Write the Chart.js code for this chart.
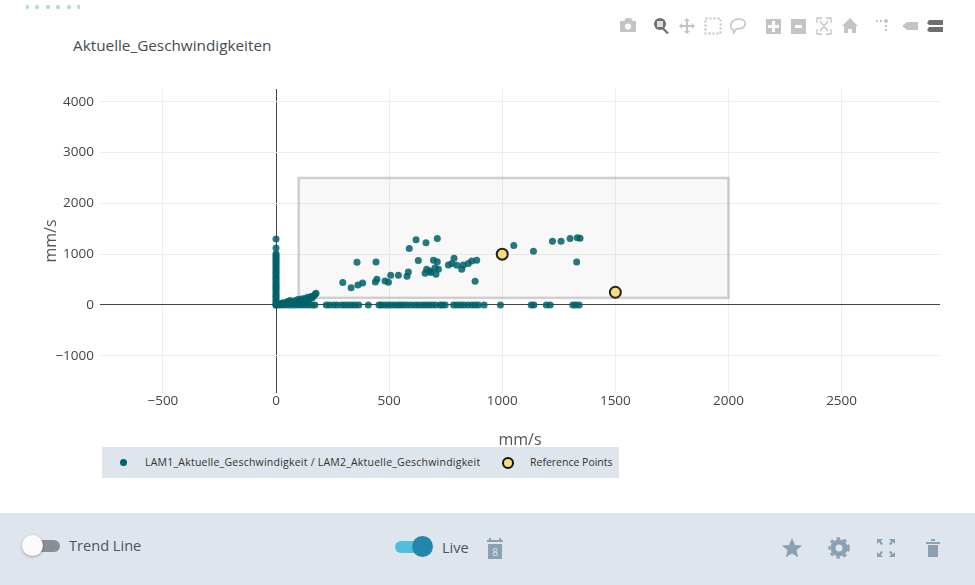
<!DOCTYPE html>
<html>
<head>
<meta charset="utf-8">
<script src="https://cdn.jsdelivr.net/npm/chart.js@4"></script>
<style>
    html, body { margin: 0; padding: 0; background: #fff; }
    body { width: 975px; height: 585px; position: relative; overflow: hidden; font-family: "Open Sans", sans-serif; }
    #chart { position: absolute; left: 0; top: 0; }
    .abs { position: absolute; }
    #title { left: 73px; top: 35px; font-size: 15.3px; color: #444c54; }
    #dots { left: 26px; top: 4px; width: 54px; height: 6px; overflow: hidden; }
    #legend { left: 102px; top: 447px; width: 517px; height: 31px; background: #dfe5ec; font-size: 10.5px; color: #333; }
    #legend span { position: absolute; top: 8px; white-space: nowrap; }
    #legend i { position: absolute; border-radius: 50%; box-sizing: border-box; }
    #bar { left: 0; top: 513px; width: 975px; height: 72px; background: #dfe5ec; }
    .label { font-size: 14.6px; color: #4a5560; }
    .track { height: 12px; border-radius: 6px; }
    .knob { border-radius: 50%; width: 21px; height: 21px; }
</style>
</head>
<body>
<svg id="dots" class="abs" viewBox="0 0 54 6">
    <circle cx="1" cy="3" r="2.2" fill="#b2dfdd"/><circle cx="11" cy="3" r="2.2" fill="#b2dfdd"/>
    <circle cx="22" cy="3" r="2.2" fill="#b2dfdd"/><circle cx="32" cy="3" r="2.2" fill="#b2dfdd"/>
    <circle cx="43" cy="3" r="2.2" fill="#b2dfdd"/><circle cx="53" cy="3" r="2.2" fill="#b2dfdd"/>
</svg>
<div id="title" class="abs">Aktuelle_Geschwindigkeiten</div>

<!-- mode bar -->
<svg class="abs" style="left:610px;top:10px" width="340" height="32" viewBox="610 10 340 32" fill="#c4c4c4" stroke="none">
    <path d="M620 21h4l2-3h5l2 3h3v11h-16z"/><circle cx="628" cy="26.5" r="3" fill="#fff"/>
    <circle cx="660" cy="24" r="6" fill="#6f6f6f"/><rect x="657" y="21" width="6" height="6" fill="#ddd"/><path d="M664 28l5 5-2 1-5-5z" fill="#6f6f6f"/>
    <path d="M687 18l3 3h-2v4h4v-2l3 3-3 3v-2h-4v4h2l-3 3-3-3h2v-4h-4v2l-3-3 3-3v2h4v-4h-2z"/>
    <rect x="705.500" y="18.500" width="15" height="15" fill="none" stroke="#c4c4c4" stroke-width="2" stroke-dasharray="2 2"/>
    <path d="M731 27c-1-5 3-8 8-8s7 3 6 6-5 4-9 4l-2 4-1-4c-1 0-2-1-2-2z" fill="none" stroke="#c4c4c4" stroke-width="1.500"/>
    <rect x="766" y="19" width="15" height="15"/><path d="M772 21h3v4h4v3h-4v4h-3v-4h-4v-3h4z" fill="#fff"/>
    <rect x="791" y="19" width="15" height="15"/><rect x="795" y="25" width="7" height="3" fill="#fff"/>
    <path d="M817 23v-5h5M831 23v-5h-5M817 29v5h5M831 29v5h-5M820 21l8 10M828 21l-8 10" fill="none" stroke="#c4c4c4" stroke-width="1.300"/>
    <path d="M850 18l8 8h-2v7h-4v-4h-4v4h-4v-7h-2z"/>
    <circle cx="886" cy="21" r="2"/><rect x="876" y="20" width="2" height="2"/><rect x="880" y="20" width="2" height="2"/><rect x="885" y="25" width="2" height="2"/><rect x="885" y="29" width="2" height="2"/>
    <path d="M902 26l5-4h11v8h-11z"/>
    <path d="M927 23l2-3h14v5h-14z" fill="#6f6f6f"/><path d="M927 30l2-3h14v5h-14z" fill="#6f6f6f"/>
</svg>

<canvas id="chart" width="975" height="450"></canvas>
<div id="legend" class="abs"></div>

<div id="bar" class="abs">
    <div class="abs track" style="left:27px;top:27px;width:33px;background:#8a8f94"></div>
    <div class="abs knob" style="left:22px;top:22px;background:#fbfbfb;box-shadow:0 1px 3px rgba(0,0,0,.3)"></div>
    <div class="abs label" style="left:69px;top:22px">Trend Line</div>
    <div class="abs track" style="left:395px;top:28px;width:30px;background:#4fc0dc"></div>
    <div class="abs knob" style="left:412px;top:23px;background:#2187ac"></div>
    <div class="abs label" style="left:442px;top:24px">Live</div>
    <svg class="abs" style="left:485px;top:20px" width="20" height="30" viewBox="0 0 20 30" fill="#8aa0b3">
        <path d="M4 5h2v2h8v-2h2v2h2v2h-16v-2h2zM3 11h14v15h-14z"/>
        <text x="10" y="23" font-size="10" text-anchor="middle" fill="#dfe5ec" font-family="Open Sans">8</text>
    </svg>
    <svg class="abs" style="left:775px;top:20px" width="170" height="30" viewBox="775 533 170 30" fill="#8aa0b3">
        <path d="M792 538l3 7 7 .6-5.500 4.600 1.800 7-6.300-3.700-6.300 3.700 1.800-7-5.500-4.600 7-.6z"/>
        <circle cx="839" cy="548" r="6" fill="none" stroke="#8aa0b3" stroke-width="5"/><circle cx="839" cy="548" r="9.500" fill="none" stroke="#8aa0b3" stroke-width="2.500" stroke-dasharray="3.500 3.500"/>
        <path d="M877 539h6l-2 2 2 3-2 1-2-3-2 2zM895 539h-6l2 2-2 3 2 1 2-3 2 2zM877 557h6l-2-2 2-3-2-1-2 3-2-2zM895 557h-6l2-2-2-3 2-1 2 3 2-2z"/>
        <path d="M926 542h14v2h-14zM931 539h4v2h-4zM928 545h10v12h-10z"/>
    </svg>
</div>

<script>
// values, mm/s
const speedLabel = 'LAM1_Aktuelle_Geschwindigkeit / LAM2_Aktuelle_Geschwindigkeit';
const refLabel = 'Reference Points';

const xTicks = [-500, 0, 500, 1000, 1500, 2000, 2500];
const yTicks = [-1000, 0, 1000, 2000, 3000, 4000];

// scattered points in the box
const cloudX = [295, 332, 362, 383, 358, 442, 439, 446, 482, 497, 507, 541, 579, 585, 589, 619, 663, 713, 629, 659, 666, 681, 684, 696, 713, 703, 718, 707, 762, 777, 787, 799, 821, 828, 850, 865, 887, 880, 1051, 1138, 1222, 1260, 1300, 1332, 1344, 1329];
const cloudY = [440, 341, 394, 433, 840, 846, 453, 505, 472, 446, 584, 584, 564, 650, 1109, 1286, 1227, 1306, 873, 623, 702, 669, 640, 879, 853, 735, 702, 604, 787, 814, 919, 781, 702, 787, 814, 866, 879, 466, 1168, 1056, 1253, 1253, 1306, 1325, 1312, 846];

// low speed tail near the origin
const tailX = [8, 15, 22, 30, 38, 45, 52, 60, 68, 75, 82, 90, 96, 104, 110, 118, 125, 132, 140, 148, 155, 160, 166, 172, 177, 30, 50, 70, 88, 105, 122, 140, 62, 95, 118];
const tailY = [10, 14, 22, 20, 35, 30, 48, 38, 62, 50, 85, 66, 110, 72, 118, 90, 128, 108, 150, 118, 168, 140, 172, 205, 230, 45, 70, 35, 30, 45, 40, 62, 90, 65, 60];

// points lying on the x axis (second speed is 0)
const floorX = [0, 12, 25, 40, 55, 70, 85, 100, 115, 130, 145, 160, 172, 222, 236, 255, 270, 290, 304, 320, 335, 350, 366, 408, 455, 465, 480, 495, 510, 525, 540, 553, 566, 582, 598, 615, 630, 646, 660, 675, 690, 705, 725, 735, 748, 785, 800, 815, 830, 848, 865, 880, 895, 920, 992, 1128, 1140, 1195, 1212, 1312, 1325, 1340];

// points lying on the y axis (first speed is 0)
const wallY = [0, 30, 65, 100, 135, 170, 205, 240, 280, 315, 350, 390, 425, 460, 500, 535, 570, 610, 645, 680, 720, 755, 790, 830, 865, 900, 940, 975, 1010, 1120, 1300];

const refX = [1000, 1500];
const refY = [1000, 250];

// grey box behind the data
const boxX = [100, 2000];
const boxY = [140, 2500];

const axisTitle = 'mm/s';
const xMin = -778, xMax = 2935, yMin = -1732, yMax = 4250;

const speedPoints = [];
cloudX.forEach((x, i) => speedPoints.push({ x: x, y: cloudY[i] }));
tailX.forEach((x, i) => speedPoints.push({ x: x, y: tailY[i] }));
floorX.forEach(x => speedPoints.push({ x: x, y: 0 }));
wallY.forEach(y => speedPoints.push({ x: 0, y: y }));

const boxPlugin = {
    id: 'box',
    beforeDatasetsDraw(c) {
        const x = c.scales.x, y = c.scales.y, g = c.ctx;
        const left = x.getPixelForValue(boxX[0]), right = x.getPixelForValue(boxX[1]);
        const top = y.getPixelForValue(boxY[1]), bottom = y.getPixelForValue(boxY[0]);
        g.save();
        g.fillStyle = 'rgba(120,120,120,0.055)';
        g.fillRect(left, top, right - left, bottom - top);
        g.strokeStyle = 'rgba(150,150,150,0.45)';
        g.lineWidth = 2.5;
        g.strokeRect(left, top, right - left, bottom - top);
        g.restore();
    }
};

const axisOpts = (min, max, tickList, tickPad) => ({
    type: 'linear',
    min: min,
    max: max,
    afterBuildTicks: s => { s.ticks = tickList.map(v => ({ value: v })); },
    border: { display: false },
    grid: {
        drawTicks: false,
        color: c => c.tick && c.tick.value === 0 ? '#444' : '#eeeeee',
        lineWidth: 1
    },
    ticks: {
        color: '#444',
        padding: tickPad,
        maxRotation: 0,
        font: { family: 'Open Sans', size: 13.5 },
        callback: v => String(v).replace('-', '\u2212')
    },
    title: {
        display: true,
        text: axisTitle,
        color: '#555',
        font: { family: 'Open Sans', size: 16 },
        padding: 0
    }
});

const xAxis = axisOpts(xMin, xMax, xTicks, 0);
xAxis.afterFit = s => { s.height = 57; };
const yAxis = axisOpts(yMin, yMax, yTicks, 6);
yAxis.afterFit = s => { s.width = 58; };

const chart = new Chart(document.querySelector('#chart').getContext('2d'), {
    type: 'scatter',
    data: {
        datasets: [
            {
                label: refLabel,
                data: refX.map((x, i) => ({ x: x, y: refY[i] })),
                backgroundColor: '#f8dc7c',
                borderColor: '#222',
                borderWidth: 2,
                pointRadius: 5.5
            },
            {
                label: speedLabel,
                data: speedPoints,
                backgroundColor: 'rgba(0,98,105,0.85)',
                borderWidth: 0,
                pointRadius: 3.5
            }
        ]
    },
    options: {
        responsive: false,
        animation: false,
        layout: { padding: { left: 42, right: 35, top: 89, bottom: 0 } },
        plugins: { legend: { display: false }, title: { display: false }, tooltip: { enabled: false } },
        scales: { x: xAxis, y: yAxis }
    },
    plugins: [boxPlugin]
});

// legend under the chart, built from the datasets
const legend = document.querySelector('#legend');
const speedSet = chart.data.datasets[1], refSet = chart.data.datasets[0];
legend.innerHTML =
    '<i style="left:18px;top:12px;width:7px;height:7px;background:#00626a"></i>' +
    '<span style="left:43px;letter-spacing:.23px">' + speedSet.label + '</span>' +
    '<i style="left:400px;top:10px;width:12px;height:12px;background:' + refSet.backgroundColor + ';border:2px solid #111"></i>' +
    '<span style="left:428px">' + refSet.label + '</span>';
</script>
</body>
</html>
